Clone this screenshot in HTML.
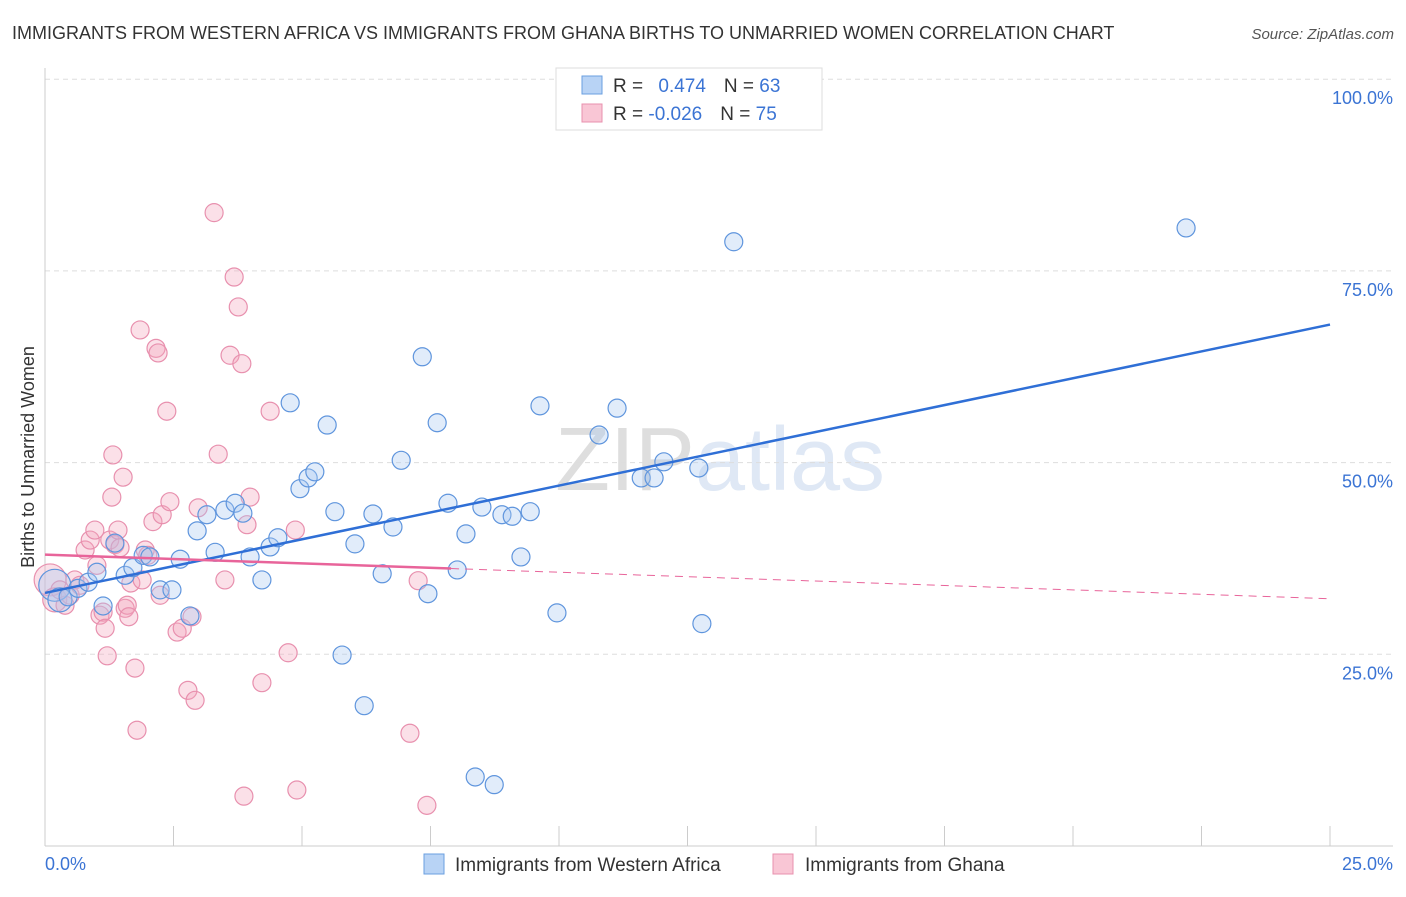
<!DOCTYPE html>
<html><head><meta charset="utf-8"><style>
body{margin:0;background:#fff;font-family:"Liberation Sans",sans-serif;}
svg text{font-family:"Liberation Sans",sans-serif;}
</style></head><body>
<svg id="chart" width="1406" height="892" xmlns="http://www.w3.org/2000/svg">
<text x="12" y="39" font-size="18" fill="#333">IMMIGRANTS FROM WESTERN AFRICA VS IMMIGRANTS FROM GHANA BIRTHS TO UNMARRIED WOMEN CORRELATION CHART</text>
<text x="1394" y="39" font-size="15" fill="#555" text-anchor="end" font-style="italic">Source: ZipAtlas.com</text>
<text x="720" y="490" font-size="90" text-anchor="middle" fill="#e6e6e6" font-family="Liberation Serif"><tspan fill="#dedede">ZIP</tspan><tspan fill="#dfe8f5" font-family="Liberation Sans">atlas</tspan></text>
<text transform="translate(34,457) rotate(-90)" font-size="18" fill="#333" text-anchor="middle">Births to Unmarried Women</text>
<g id="grid"></g><g id="marks"></g>
<g>
<rect x="556" y="68" width="266" height="62" fill="#fff" stroke="#ddd"/>
<rect x="582" y="76" width="20" height="18" fill="#b8d3f5" stroke="#6a9fe0"/>
<rect x="582" y="104" width="20" height="18" fill="#f9c6d5" stroke="#e890ae"/>
<text x="613" y="92" font-size="19" fill="#333">R = <tspan fill="#3b74d4" dx="10">0.474</tspan><tspan dx="18">N = </tspan><tspan fill="#3b74d4">63</tspan></text>
<text x="613" y="120" font-size="19" fill="#333">R = <tspan fill="#3b74d4">-0.026</tspan><tspan dx="18">N = </tspan><tspan fill="#3b74d4">75</tspan></text>
</g>
<g>
<rect x="424" y="854" width="20" height="20" fill="#b8d3f5" stroke="#6a9fe0"/>
<text x="455" y="871" font-size="19" fill="#333">Immigrants from Western Africa</text>
<rect x="773" y="854" width="20" height="20" fill="#f9c6d5" stroke="#e890ae"/>
<text x="805" y="871" font-size="19" fill="#333">Immigrants from Ghana</text>
</g>
</svg>
<script>
const yTicks=[25,50,75,100];
const yTickLabels=["25.0%","50.0%","75.0%","100.0%"];
const xTickLabels=["0.0%","25.0%"];
const blueX=[0.19,0.29,0.45,0.64,0.84,1.01,1.13,1.36,1.56,1.71,1.91,2.04,2.24,2.47,2.63,2.82,2.96,3.15,3.31,3.50,3.70,3.85,3.99,4.22,4.38,4.53,4.77,4.96,5.12,5.25,5.49,5.64,5.78,6.03,6.21,6.38,6.56,6.77,6.93,7.34,7.45,7.63,7.84,8.02,8.19,8.37,8.50,8.74,8.89,9.09,9.26,9.44,9.63,9.96,10.78,11.13,11.60,11.85,12.04,12.72,12.78,13.40,22.20];
const blueY=[34.0,32.1,32.5,33.6,34.4,35.7,31.3,39.5,35.3,36.3,37.9,37.7,33.4,33.4,37.4,30.0,41.1,43.2,38.3,43.8,44.7,43.4,37.7,34.7,39.0,40.2,57.8,46.6,48.0,48.8,54.9,43.6,24.9,39.4,18.3,43.3,35.5,41.6,50.3,63.8,32.9,55.2,44.7,36.0,40.7,9.0,44.2,8.0,43.2,43.0,37.7,43.6,57.4,30.4,53.6,57.1,48.0,48.0,50.1,49.3,29.0,78.8,80.6];
const pinkX=[0.10,0.19,0.29,0.39,0.49,0.58,0.68,0.78,0.88,0.97,1.01,1.07,1.13,1.17,1.21,1.26,1.30,1.32,1.36,1.42,1.46,1.52,1.56,1.60,1.63,1.67,1.75,1.79,1.85,1.89,1.95,2.00,2.10,2.16,2.20,2.24,2.28,2.37,2.43,2.57,2.67,2.78,2.86,2.92,2.98,3.29,3.37,3.50,3.60,3.68,3.76,3.83,3.87,3.93,3.99,4.22,4.38,4.73,4.87,4.90,7.10,7.26,7.43];
const pinkY=[34.7,32.1,33.4,31.4,32.7,34.7,34.0,38.6,39.9,41.2,36.6,30.1,30.5,28.4,24.8,39.9,45.5,51.0,39.3,41.2,38.9,48.1,31.0,31.4,29.9,34.3,23.2,15.1,67.3,34.7,38.6,37.9,42.3,64.9,64.3,32.7,43.2,56.7,44.9,27.9,28.4,20.3,29.9,19.0,44.1,82.6,51.1,34.7,64.0,74.2,70.3,62.9,6.5,41.9,45.5,21.3,56.7,25.2,41.2,7.3,14.7,34.6,5.3];
const blueTrend=[33.0,1.40];
const pinkTrend=[38.0,-0.23];
const pinkSolidEnd=7.9;
const NS="http://www.w3.org/2000/svg";
const X=v=>45+v/25*1285, Y=v=>846-v/100*766.8;
function mk(t,a,p){const e=document.createElementNS(NS,t);for(const k in a)e.setAttribute(k,a[k]);p.appendChild(e);return e;}
const grid=document.getElementById('grid'),marks=document.getElementById('marks');
yTicks.forEach((t,i)=>{
 const l=mk('line',{x1:45,x2:1393,y1:Y(t),y2:Y(t),stroke:'#ddd','stroke-dasharray':'5,4'},grid);
 
 
 const tx=mk('text',{x:1393,y:Y(t)+25,'font-size':18,fill:'#3b74d4','text-anchor':'end'},grid);tx.textContent=yTickLabels[i];
 
 
});
const ax=mk('line',{x1:45,x2:45,y1:68,y2:846,stroke:'#ccc'},grid);


const bx=mk('line',{x1:45,x2:1393,y1:846,y2:846,stroke:'#ccc'},grid);


for(let i=0;i<=10;i++){const t=mk('line',{x1:X(i*2.5),x2:X(i*2.5),y1:826,y2:846,stroke:'#ccc'},grid);
 
 }
[[0,'start',45],[25,'end',1393]].forEach((d,i)=>{const t=mk('text',{x:d[2],y:870,'font-size':18,fill:'#3b74d4','text-anchor':d[1]},grid);t.textContent=xTickLabels[i];
 
 });
function pts(xs,ys,fill,stroke,name){xs.forEach((x,i)=>{const c=mk('circle',{cx:X(x),cy:Y(ys[i]),r:i<2?(i==0?16:12):9,fill:fill,'fill-opacity':0.35,stroke:stroke,'stroke-width':1.2},marks);
 
 });}
pts(pinkX,pinkY,'#f4a6be','#e890ae','ghana-point');
pts(blueX,blueY,'#a8c8f0','#5f95dd','western-africa-point');
const bl=mk('line',{x1:X(0),y1:Y(blueTrend[0]),x2:X(25),y2:Y(blueTrend[0]+blueTrend[1]*25),stroke:'#2f6fd6','stroke-width':2.5},marks);


const pl=mk('line',{x1:X(0),y1:Y(pinkTrend[0]),x2:X(pinkSolidEnd),y2:Y(pinkTrend[0]+pinkTrend[1]*pinkSolidEnd),stroke:'#e8649a','stroke-width':2.5},marks);


const pd=mk('line',{x1:X(pinkSolidEnd),y1:Y(pinkTrend[0]+pinkTrend[1]*pinkSolidEnd),x2:X(25),y2:Y(pinkTrend[0]+pinkTrend[1]*25),stroke:'#e8649a','stroke-width':1,'stroke-dasharray':'8,6'},marks);


</script>
</body></html>
